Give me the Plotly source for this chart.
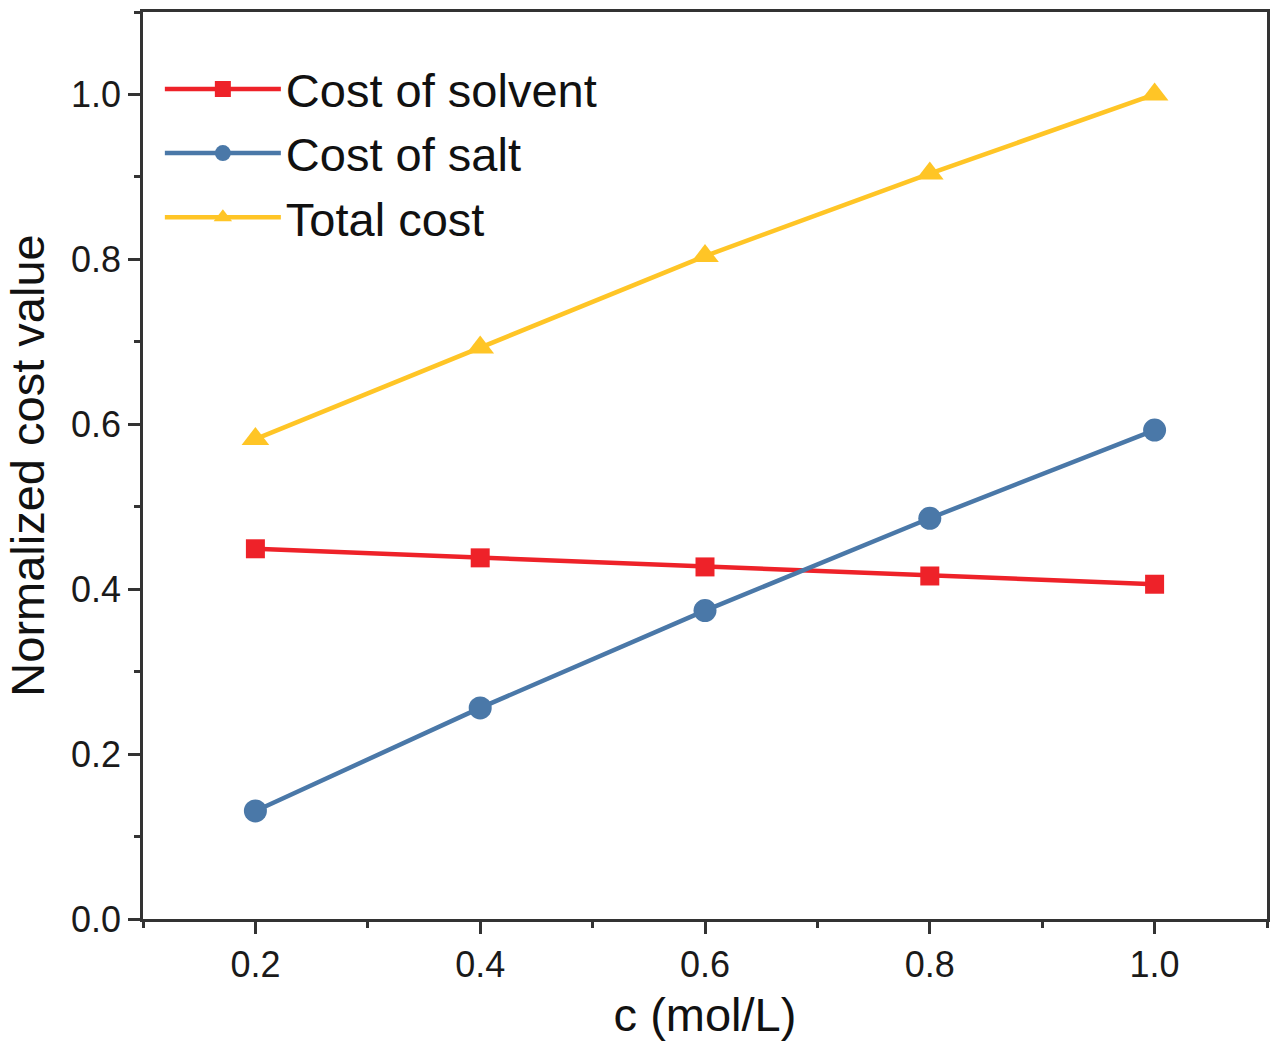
import plotly.graph_objects as go

c = [0.2, 0.4, 0.6, 0.8, 1.0]
cost_solvent = [0.449, 0.438, 0.427, 0.416, 0.406]
cost_salt = [0.131, 0.256, 0.374, 0.486, 0.593]
total_cost = [0.582, 0.693, 0.804, 0.904, 1.0]

FONT = "Liberation Sans, Arial, sans-serif"

fig = go.Figure()
fig.add_trace(go.Scatter(x=c, y=cost_solvent, name="Cost of solvent", mode="lines+markers",
                         line=dict(color="#EE2229", width=4.5),
                         marker=dict(symbol="square", size=19, color="#EE2229")))
fig.add_trace(go.Scatter(x=c, y=cost_salt, name="Cost of salt", mode="lines+markers",
                         line=dict(color="#4A78A8", width=4.5),
                         marker=dict(symbol="circle", size=23, color="#4A78A8")))
fig.add_trace(go.Scatter(x=c, y=total_cost, name="Total cost", mode="lines+markers",
                         line=dict(color="#FFC526", width=4.5),
                         marker=dict(symbol="triangle-up", size=24, color="#FFC526")))

axis_common = dict(showline=True, linecolor="#333333", linewidth=2.5, mirror=True,
                   ticks="outside", ticklen=12, tickwidth=2.5, tickcolor="#333333",
                   showgrid=False, zeroline=False,
                   tickfont=dict(family=FONT, size=36, color="#1a1a1a"))

fig.update_xaxes(range=[0.1, 1.1], tick0=0.2, dtick=0.2, tickformat=".1f",
                 minor=dict(ticks="outside", ticklen=6, tickwidth=2.5, tickcolor="#333333", dtick=0.1, tick0=0.1),
                 title=dict(text="c (mol/L)", font=dict(family=FONT, size=47, color="#111111"), standoff=18),
                 **axis_common)
fig.update_yaxes(range=[0, 1.1], tick0=0, dtick=0.2, tickformat=".1f",
                 minor=dict(ticks="outside", ticklen=6, tickwidth=2.5, tickcolor="#333333", dtick=0.1),
                 title=dict(text="Normalized cost value", font=dict(family=FONT, size=47, color="#111111"), standoff=12),
                 **axis_common)

fig.update_layout(
    width=1272, height=1041,
    margin=dict(l=143, r=2, t=12, b=122),
    plot_bgcolor="white", paper_bgcolor="white",
    legend=dict(x=0.015, y=0.956, xanchor="left", yanchor="top",
                font=dict(family=FONT, size=47, color="#111111"),
                bgcolor="rgba(0,0,0,0)", itemwidth=116, tracegroupgap=0),
    showlegend=True,
)

fig.write_html("out.html", config={"displayModeBar": False},
               post_script="document.body.style.margin='0px';"
                           "document.documentElement.style.overflow='hidden';"
                           "document.body.style.overflow='hidden';")
